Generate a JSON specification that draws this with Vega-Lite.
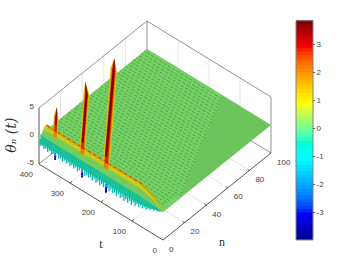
{"$schema":"https://vega.github.io/schema/vega-lite/v6.json","width":360,"height":270,"padding":0,"autosize":{"type":"fit","contains":"padding"},"background":"white","view":{"stroke":null},
"data":{"values":[
{"k":"grid","t":100,"n":0,"z":-5,"t2":100,"n2":100,"z2":-5},{"k":"grid","t":200,"n":0,"z":-5,"t2":200,"n2":100,"z2":-5},{"k":"grid","t":300,"n":0,"z":-5,"t2":300,"n2":100,"z2":-5},
{"k":"grid","t":0,"n":20,"z":-5,"t2":400,"n2":20,"z2":-5},{"k":"grid","t":0,"n":40,"z":-5,"t2":400,"n2":40,"z2":-5},{"k":"grid","t":0,"n":60,"z":-5,"t2":400,"n2":60,"z2":-5},{"k":"grid","t":0,"n":80,"z":-5,"t2":400,"n2":80,"z2":-5},
{"k":"grid","t":400,"n":20,"z":-5,"t2":400,"n2":20,"z2":5},{"k":"grid","t":400,"n":40,"z":-5,"t2":400,"n2":40,"z2":5},{"k":"grid","t":400,"n":60,"z":-5,"t2":400,"n2":60,"z2":5},{"k":"grid","t":400,"n":80,"z":-5,"t2":400,"n2":80,"z2":5},
{"k":"grid","t":100,"n":100,"z":-5,"t2":100,"n2":100,"z2":5},{"k":"grid","t":200,"n":100,"z":-5,"t2":200,"n2":100,"z2":5},{"k":"grid","t":300,"n":100,"z":-5,"t2":300,"n2":100,"z2":5},
{"k":"box","t":400,"n":0,"z":5,"t2":400,"n2":100,"z2":5},{"k":"box","t":400,"n":100,"z":5,"t2":0,"n2":100,"z2":5},{"k":"box","t":400,"n":100,"z":-5,"t2":400,"n2":100,"z2":5},{"k":"box","t":0,"n":100,"z":-5,"t2":0,"n2":100,"z2":5},{"k":"box","t":400,"n":0,"z":-5,"t2":400,"n2":100,"z2":-5},{"k":"box","t":400,"n":100,"z":-5,"t2":0,"n2":100,"z2":-5},
{"k":"axis","t":400,"n":0,"z":-5,"t2":400,"n2":0,"z2":5},{"k":"axis","t":0,"n":0,"z":-5,"t2":400,"n2":0,"z2":-5},{"k":"axis","t":0,"n":0,"z":-5,"t2":0,"n2":100,"z2":-5},
{"k":"axis","t":100,"n":0,"z":-5,"t2":100,"n2":2,"z2":-5},{"k":"axis","t":200,"n":0,"z":-5,"t2":200,"n2":2,"z2":-5},{"k":"axis","t":300,"n":0,"z":-5,"t2":300,"n2":2,"z2":-5},
{"k":"axis","t":0,"n":20,"z":-5,"t2":6,"n2":20,"z2":-5},{"k":"axis","t":0,"n":40,"z":-5,"t2":6,"n2":40,"z2":-5},{"k":"axis","t":0,"n":60,"z":-5,"t2":6,"n2":60,"z2":-5},{"k":"axis","t":0,"n":80,"z":-5,"t2":6,"n2":80,"z2":-5},
{"k":"tl","t":0,"n":0,"z":-5,"lab":"0"},{"k":"tl","t":100,"n":0,"z":-5,"lab":"100"},{"k":"tl","t":200,"n":0,"z":-5,"lab":"200"},{"k":"tl","t":300,"n":0,"z":-5,"lab":"300"},{"k":"tl","t":400,"n":0,"z":-5,"lab":"400"},
{"k":"nl","t":0,"n":0,"z":-5,"lab":"0"},{"k":"nl","t":0,"n":20,"z":-5,"lab":"20"},{"k":"nl","t":0,"n":40,"z":-5,"lab":"40"},{"k":"nl","t":0,"n":60,"z":-5,"lab":"60"},{"k":"nl","t":0,"n":80,"z":-5,"lab":"80"},{"k":"nl","t":0,"n":100,"z":-5,"lab":"100"},
{"k":"zl","t":400,"n":0,"z":5,"lab":"5"},{"k":"zl","t":400,"n":0,"z":0,"lab":"0"},{"k":"zl","t":400,"n":0,"z":-5,"lab":"-5"},
{"k":"ti","t":104.5,"n":-27.4,"z":-5,"lab":"t"},{"k":"ti","t":-112.4,"n":22.3,"z":-5,"lab":"n"},
{"k":"yt","t":487,"n":0,"z":-2.8,"lab":"θₙ (t)"},
{"k":"flat","id":"f","o":1,"t":0,"n":0,"z":0},{"k":"flat","id":"f","o":2,"t":0,"n":100,"z":0},{"k":"flat","id":"f","o":3,"t":400,"n":100,"z":0},{"k":"flat","id":"f","o":4,"t":400,"n":0,"z":0},
{"k":"tex","id":"x","o":1,"t":0,"n":0,"z":0},{"k":"tex","id":"x","o":2,"t":0,"n":16,"z":0},{"k":"tex","id":"x","o":3,"t":155,"n":100,"z":0},{"k":"tex","id":"x","o":4,"t":400,"n":100,"z":0},{"k":"tex","id":"x","o":5,"t":400,"n":0,"z":0},
{"k":"h","t":15,"n":5,"z":0,"t2":400,"n2":5,"z2":0},{"k":"h","t":15,"n":7.5,"z":0,"t2":400,"n2":7.5,"z2":0},{"k":"h","t":15,"n":10,"z":0,"t2":400,"n2":10,"z2":0},{"k":"h","t":15,"n":12.5,"z":0,"t2":400,"n2":12.5,"z2":0},{"k":"h","t":15,"n":15,"z":0,"t2":400,"n2":15,"z2":0},{"k":"h","t":3,"n":17.5,"z":0,"t2":400,"n2":17.5,"z2":0},{"k":"h","t":7,"n":20,"z":0,"t2":400,"n2":20,"z2":0},{"k":"h","t":12,"n":22.5,"z":0,"t2":400,"n2":22.5,"z2":0},{"k":"h","t":17,"n":25,"z":0,"t2":400,"n2":25,"z2":0},{"k":"h","t":21,"n":27.5,"z":0,"t2":400,"n2":27.5,"z2":0},{"k":"h","t":26,"n":30,"z":0,"t2":400,"n2":30,"z2":0},{"k":"h","t":31,"n":32.5,"z":0,"t2":400,"n2":32.5,"z2":0},{"k":"h","t":35,"n":35,"z":0,"t2":400,"n2":35,"z2":0},{"k":"h","t":40,"n":37.5,"z":0,"t2":400,"n2":37.5,"z2":0},{"k":"h","t":44,"n":40,"z":0,"t2":400,"n2":40,"z2":0},{"k":"h","t":49,"n":42.5,"z":0,"t2":400,"n2":42.5,"z2":0},{"k":"h","t":54,"n":45,"z":0,"t2":400,"n2":45,"z2":0},{"k":"h","t":58,"n":47.5,"z":0,"t2":400,"n2":47.5,"z2":0},{"k":"h","t":63,"n":50,"z":0,"t2":400,"n2":50,"z2":0},{"k":"h","t":67,"n":52.5,"z":0,"t2":400,"n2":52.5,"z2":0},{"k":"h","t":72,"n":55,"z":0,"t2":400,"n2":55,"z2":0},{"k":"h","t":77,"n":57.5,"z":0,"t2":400,"n2":57.5,"z2":0},{"k":"h","t":81,"n":60,"z":0,"t2":400,"n2":60,"z2":0},{"k":"h","t":86,"n":62.5,"z":0,"t2":400,"n2":62.5,"z2":0},{"k":"h","t":90,"n":65,"z":0,"t2":400,"n2":65,"z2":0},{"k":"h","t":95,"n":67.5,"z":0,"t2":400,"n2":67.5,"z2":0},{"k":"h","t":100,"n":70,"z":0,"t2":400,"n2":70,"z2":0},{"k":"h","t":104,"n":72.5,"z":0,"t2":400,"n2":72.5,"z2":0},{"k":"h","t":109,"n":75,"z":0,"t2":400,"n2":75,"z2":0},{"k":"h","t":113,"n":77.5,"z":0,"t2":400,"n2":77.5,"z2":0},{"k":"h","t":118,"n":80,"z":0,"t2":400,"n2":80,"z2":0},{"k":"h","t":123,"n":82.5,"z":0,"t2":400,"n2":82.5,"z2":0},{"k":"h","t":127,"n":85,"z":0,"t2":400,"n2":85,"z2":0},{"k":"h","t":132,"n":87.5,"z":0,"t2":400,"n2":87.5,"z2":0},{"k":"h","t":137,"n":90,"z":0,"t2":400,"n2":90,"z2":0},{"k":"h","t":141,"n":92.5,"z":0,"t2":400,"n2":92.5,"z2":0},{"k":"h","t":146,"n":95,"z":0,"t2":400,"n2":95,"z2":0},{"k":"h","t":150,"n":97.5,"z":0,"t2":400,"n2":97.5,"z2":0},
{"k":"fr","c":-1.1,"t":12,"z":-0.1,"z2":-0.3},{"k":"fr","c":-1.1,"t":18,"z":-0.1,"z2":-0.5},{"k":"fr","c":-1.1,"t":24,"z":-0.2,"z2":-0.5},{"k":"fr","c":-1.1,"t":30,"z":-0.3,"z2":-0.8},{"k":"fr","c":-1.1,"t":36,"z":-0.4,"z2":-0.7},{"k":"fr","c":-1.1,"t":42,"z":-0.5,"z2":-1.1},{"k":"fr","c":-1.1,"t":48,"z":-0.6,"z2":-1.0},{"k":"fr","c":-1.1,"t":54,"z":-0.6,"z2":-1.4},{"k":"fr","c":-1.1,"t":60,"z":-0.7,"z2":-1.2},{"k":"fr","c":-1.1,"t":66,"z":-0.7,"z2":-1.6},{"k":"fr","c":-1.1,"t":72,"z":-0.8,"z2":-1.3},{"k":"fr","c":-1.1,"t":78,"z":-0.8,"z2":-1.8},{"k":"fr","c":-1.1,"t":84,"z":-0.9,"z2":-1.4},{"k":"fr","c":-1.1,"t":90,"z":-1,"z2":-2.0},{"k":"fr","c":-1.1,"t":96,"z":-1,"z2":-1.6},{"k":"fr","c":-1.1,"t":102,"z":-1,"z2":-2.2},{"k":"fr","c":-1.1,"t":108,"z":-1,"z2":-1.7},{"k":"fr","c":-1.1,"t":114,"z":-1,"z2":-2.2},{"k":"fr","c":-1.1,"t":120,"z":-1,"z2":-1.8},{"k":"fr","c":-1.1,"t":126,"z":-1,"z2":-2.3},{"k":"fr","c":-1.1,"t":132,"z":-1,"z2":-1.8},{"k":"fr","c":-1.1,"t":138,"z":-1,"z2":-2.2},{"k":"fr","c":-1.1,"t":144,"z":-1,"z2":-1.7},{"k":"fr","c":-1.1,"t":150,"z":-1,"z2":-2.3},{"k":"fr","c":-1.1,"t":156,"z":-1,"z2":-1.8},{"k":"fr","c":-1.1,"t":162,"z":-1,"z2":-2.1},{"k":"fr","c":-1.1,"t":168,"z":-1,"z2":-1.7},{"k":"fr","c":-1.1,"t":174,"z":-1,"z2":-2.2},{"k":"fr","c":-1.1,"t":180,"z":-1,"z2":-1.8},{"k":"fr","c":-1.1,"t":192,"z":-1,"z2":-2.1},{"k":"fr","c":-1.1,"t":198,"z":-1,"z2":-1.7},{"k":"fr","c":-1.1,"t":204,"z":-1,"z2":-2.2},{"k":"fr","c":-1.1,"t":210,"z":-1,"z2":-1.7},{"k":"fr","c":-1.1,"t":216,"z":-1,"z2":-2.1},{"k":"fr","c":-1.1,"t":222,"z":-1,"z2":-1.6},{"k":"fr","c":-1.1,"t":228,"z":-1,"z2":-2.1},{"k":"fr","c":-1.1,"t":234,"z":-1,"z2":-1.7},{"k":"fr","c":-1.1,"t":240,"z":-1,"z2":-2.0},{"k":"fr","c":-1.1,"t":246,"z":-1,"z2":-1.7},{"k":"fr","c":-1.1,"t":252,"z":-1,"z2":-2.1},{"k":"fr","c":-1.1,"t":270,"z":-1,"z2":-1.7},{"k":"fr","c":-1.1,"t":276,"z":-1,"z2":-2.1},{"k":"fr","c":-1.1,"t":282,"z":-1,"z2":-1.6},{"k":"fr","c":-1.1,"t":288,"z":-1,"z2":-2.0},{"k":"fr","c":-1.1,"t":294,"z":-1,"z2":-1.6},{"k":"fr","c":-1.1,"t":300,"z":-1,"z2":-2.0},{"k":"fr","c":-1.1,"t":306,"z":-1,"z2":-1.6},{"k":"fr","c":-1.1,"t":312,"z":-1,"z2":-1.9},{"k":"fr","c":-1.1,"t":318,"z":-1,"z2":-1.6},{"k":"fr","c":-1.1,"t":324,"z":-1,"z2":-2.0},{"k":"fr","c":-1.1,"t":330,"z":-1,"z2":-1.6},{"k":"fr","c":-1.1,"t":336,"z":-1,"z2":-1.9},{"k":"fr","c":-1.1,"t":354,"z":-1,"z2":-1.6},{"k":"fr","c":-1.1,"t":360,"z":-1,"z2":-1.9},{"k":"fr","c":-1.1,"t":366,"z":-1,"z2":-1.5},{"k":"fr","c":-1.1,"t":372,"z":-1,"z2":-1.9},{"k":"fr","c":-1.1,"t":378,"z":-1,"z2":-1.5},{"k":"fr","c":-1.1,"t":384,"z":-1,"z2":-1.8},{"k":"fr","c":-1.1,"t":390,"z":-1,"z2":-1.4},{"k":"fr","c":-1.1,"t":396,"z":-1,"z2":-1.6},
{"k":"sp","t":184,"z":-0.5,"z2":-1.2,"c":-1.2},{"k":"sp","t":184,"z":-1.2,"z2":-1.8,"c":-2.2},{"k":"sp","t":184,"z":-1.8,"z2":-2.3,"c":-3.2},{"k":"sp","t":184,"z":-2.3,"z2":-2.8,"c":-3.9},
{"k":"sp","t":261,"z":-0.5,"z2":-1.2,"c":-1.2},{"k":"sp","t":261,"z":-1.2,"z2":-1.8,"c":-2.2},{"k":"sp","t":261,"z":-1.8,"z2":-2.3,"c":-3.2},{"k":"sp","t":261,"z":-2.3,"z2":-2.7,"c":-3.9},
{"k":"sp","t":348,"z":-0.5,"z2":-1.2,"c":-1.2},{"k":"sp","t":348,"z":-1.2,"z2":-1.7,"c":-2.2},{"k":"sp","t":348,"z":-1.7,"z2":-2.1,"c":-3.2},{"k":"sp","t":348,"z":-2.1,"z2":-2.5,"c":-3.9},
{"k":"p","id":"s1","c":-0.65,"o":1,"t":0,"n":0,"z":0},{"k":"p","id":"s1","c":-0.65,"o":2,"t":20,"n":0,"z":-0.42},{"k":"p","id":"s1","c":-0.65,"o":3,"t":50,"n":0,"z":-0.84},{"k":"p","id":"s1","c":-0.65,"o":4,"t":90,"n":0,"z":-1.2},{"k":"p","id":"s1","c":-0.65,"o":5,"t":400,"n":0,"z":-1.2},{"k":"p","id":"s1","c":-0.65,"o":6,"t":400,"n":2,"z":-0.2},{"k":"p","id":"s1","c":-0.65,"o":7,"t":90,"n":2,"z":-0.2},{"k":"p","id":"s1","c":-0.65,"o":8,"t":50,"n":1.4,"z":-0.14},{"k":"p","id":"s1","c":-0.65,"o":9,"t":20,"n":0.7,"z":-0.07},
{"k":"p","id":"s2","c":0.1,"o":1,"t":0,"n":0,"z":0},{"k":"p","id":"s2","c":0.1,"o":2,"t":20,"n":0.7,"z":-0.07},{"k":"p","id":"s2","c":0.1,"o":3,"t":50,"n":1.4,"z":-0.14},{"k":"p","id":"s2","c":0.1,"o":4,"t":90,"n":2,"z":-0.2},{"k":"p","id":"s2","c":0.1,"o":5,"t":400,"n":2,"z":-0.2},{"k":"p","id":"s2","c":0.1,"o":6,"t":400,"n":4,"z":0.6},{"k":"p","id":"s2","c":0.1,"o":7,"t":90,"n":4,"z":0.6},{"k":"p","id":"s2","c":0.1,"o":8,"t":50,"n":2.8,"z":0.42},{"k":"p","id":"s2","c":0.1,"o":9,"t":20,"n":1.4,"z":0.21},
{"k":"p","id":"s3","c":0.8,"o":1,"t":0,"n":0,"z":0},{"k":"p","id":"s3","c":0.8,"o":2,"t":20,"n":1.4,"z":0.21},{"k":"p","id":"s3","c":0.8,"o":3,"t":50,"n":2.8,"z":0.42},{"k":"p","id":"s3","c":0.8,"o":4,"t":90,"n":4,"z":0.6},{"k":"p","id":"s3","c":0.8,"o":5,"t":400,"n":4,"z":0.6},{"k":"p","id":"s3","c":0.8,"o":6,"t":400,"n":5.5,"z":0.95},{"k":"p","id":"s3","c":0.8,"o":7,"t":90,"n":5.5,"z":0.95},{"k":"p","id":"s3","c":0.8,"o":8,"t":50,"n":3.85,"z":0.66},{"k":"p","id":"s3","c":0.8,"o":9,"t":20,"n":1.9,"z":0.33},
{"k":"p","id":"s5","c":0.3,"o":1,"t":0,"n":0,"z":0},{"k":"p","id":"s5","c":0.3,"o":2,"t":20,"n":2.45,"z":0.35},{"k":"p","id":"s5","c":0.3,"o":3,"t":50,"n":4.9,"z":0.7},{"k":"p","id":"s5","c":0.3,"o":4,"t":90,"n":7,"z":1},{"k":"p","id":"s5","c":0.3,"o":5,"t":400,"n":7,"z":1},{"k":"p","id":"s5","c":0.3,"o":6,"t":400,"n":10,"z":0},{"k":"p","id":"s5","c":0.3,"o":7,"t":90,"n":10,"z":0},{"k":"p","id":"s5","c":0.3,"o":8,"t":50,"n":7,"z":0},{"k":"p","id":"s5","c":0.3,"o":9,"t":20,"n":3.5,"z":0},
{"k":"p","id":"s4","c":1.5,"o":1,"t":0,"n":0,"z":0},{"k":"p","id":"s4","c":1.5,"o":2,"t":20,"n":1.9,"z":0.33},{"k":"p","id":"s4","c":1.5,"o":3,"t":50,"n":3.85,"z":0.66},{"k":"p","id":"s4","c":1.5,"o":4,"t":90,"n":5.5,"z":0.95},{"k":"p","id":"s4","c":1.5,"o":5,"t":400,"n":5.5,"z":0.95},{"k":"p","id":"s4","c":1.5,"o":6,"t":400,"n":7,"z":1},{"k":"p","id":"s4","c":1.5,"o":7,"t":90,"n":7,"z":1},{"k":"p","id":"s4","c":1.5,"o":8,"t":50,"n":4.9,"z":0.7},{"k":"p","id":"s4","c":1.5,"o":9,"t":20,"n":2.45,"z":0.35},
{"k":"p","id":"r1a","c":0.9,"o":1,"t":355.7,"n":0,"z":1.5},{"k":"p","id":"r1a","c":0.9,"o":2,"t":376.7,"n":7,"z":3.3},{"k":"p","id":"r1a","c":0.9,"o":3,"t":384,"n":12,"z":3.8},{"k":"p","id":"r1a","c":0.9,"o":4,"t":361.3,"n":7,"z":3.3},{"k":"p","id":"r1a","c":0.9,"o":5,"t":340.3,"n":0,"z":1.5},
{"k":"p","id":"r1b","c":1.8,"o":1,"t":353.6,"n":0,"z":1.5},{"k":"p","id":"r1b","c":1.8,"o":2,"t":374.6,"n":7,"z":3.3},{"k":"p","id":"r1b","c":1.8,"o":3,"t":384,"n":12,"z":3.8},{"k":"p","id":"r1b","c":1.8,"o":4,"t":363.4,"n":7,"z":3.3},{"k":"p","id":"r1b","c":1.8,"o":5,"t":342.4,"n":0,"z":1.5},
{"k":"p","id":"r1c","c":2.8,"o":1,"t":357.5,"n":2,"z":2},{"k":"p","id":"r1c","c":2.8,"o":2,"t":372.5,"n":7,"z":3.3},{"k":"p","id":"r1c","c":2.8,"o":3,"t":384,"n":12,"z":3.8},{"k":"p","id":"r1c","c":2.8,"o":4,"t":365.5,"n":7,"z":3.3},{"k":"p","id":"r1c","c":2.8,"o":5,"t":350.5,"n":2,"z":2},
{"k":"p","id":"r1d","c":3.7,"o":1,"t":361.8,"n":4,"z":2.6},{"k":"p","id":"r1d","c":3.7,"o":2,"t":370.8,"n":7,"z":3.3},{"k":"p","id":"r1d","c":3.7,"o":3,"t":384,"n":12,"z":3.8},{"k":"p","id":"r1d","c":3.7,"o":4,"t":367.2,"n":7,"z":3.3},{"k":"p","id":"r1d","c":3.7,"o":5,"t":358.2,"n":4,"z":2.6},
{"k":"p","id":"r2a","c":0.9,"o":1,"t":270.1,"n":0,"z":1.5},{"k":"p","id":"r2a","c":0.9,"o":2,"t":374.1,"n":34,"z":3.5},{"k":"p","id":"r2a","c":0.9,"o":3,"t":390,"n":40,"z":3.8},{"k":"p","id":"r2a","c":0.9,"o":4,"t":355.9,"n":34,"z":3.5},{"k":"p","id":"r2a","c":0.9,"o":5,"t":251.9,"n":0,"z":1.5},
{"k":"p","id":"r2b","c":1.8,"o":1,"t":267.7,"n":0,"z":1.5},{"k":"p","id":"r2b","c":1.8,"o":2,"t":371.7,"n":34,"z":3.5},{"k":"p","id":"r2b","c":1.8,"o":3,"t":390,"n":40,"z":3.8},{"k":"p","id":"r2b","c":1.8,"o":4,"t":358.3,"n":34,"z":3.5},{"k":"p","id":"r2b","c":1.8,"o":5,"t":254.3,"n":0,"z":1.5},
{"k":"p","id":"r2c","c":2.8,"o":1,"t":271.2,"n":2,"z":1.9},{"k":"p","id":"r2c","c":2.8,"o":2,"t":369.2,"n":34,"z":3.5},{"k":"p","id":"r2c","c":2.8,"o":3,"t":390,"n":40,"z":3.8},{"k":"p","id":"r2c","c":2.8,"o":4,"t":360.8,"n":34,"z":3.5},{"k":"p","id":"r2c","c":2.8,"o":5,"t":262.8,"n":2,"z":1.9},
{"k":"p","id":"r2d","c":3.7,"o":1,"t":278,"n":4.5,"z":2.4},{"k":"p","id":"r2d","c":3.7,"o":2,"t":368,"n":34,"z":3.5},{"k":"p","id":"r2d","c":3.7,"o":3,"t":390,"n":40,"z":3.8},{"k":"p","id":"r2d","c":3.7,"o":4,"t":362,"n":34,"z":3.5},{"k":"p","id":"r2d","c":3.7,"o":5,"t":272,"n":4.5,"z":2.4},
{"k":"p","id":"r3a","c":0.9,"o":1,"t":194.5,"n":0,"z":1.5},{"k":"p","id":"r3a","c":0.9,"o":2,"t":378.5,"n":60,"z":3.5},{"k":"p","id":"r3a","c":0.9,"o":3,"t":390,"n":67,"z":3.8},{"k":"p","id":"r3a","c":0.9,"o":4,"t":357.5,"n":60,"z":3.5},{"k":"p","id":"r3a","c":0.9,"o":5,"t":173.5,"n":0,"z":1.5},
{"k":"p","id":"r3b","c":1.8,"o":1,"t":191.7,"n":0,"z":1.5},{"k":"p","id":"r3b","c":1.8,"o":2,"t":375.7,"n":60,"z":3.5},{"k":"p","id":"r3b","c":1.8,"o":3,"t":390,"n":67,"z":3.8},{"k":"p","id":"r3b","c":1.8,"o":4,"t":360.3,"n":60,"z":3.5},{"k":"p","id":"r3b","c":1.8,"o":5,"t":176.3,"n":0,"z":1.5},
{"k":"p","id":"r3c","c":2.8,"o":1,"t":195,"n":2,"z":1.9},{"k":"p","id":"r3c","c":2.8,"o":2,"t":372.9,"n":60,"z":3.5},{"k":"p","id":"r3c","c":2.8,"o":3,"t":390,"n":67,"z":3.8},{"k":"p","id":"r3c","c":2.8,"o":4,"t":363.1,"n":60,"z":3.5},{"k":"p","id":"r3c","c":2.8,"o":5,"t":185,"n":2,"z":1.9},
{"k":"p","id":"r3d","c":3.7,"o":1,"t":203,"n":4.5,"z":2.4},{"k":"p","id":"r3d","c":3.7,"o":2,"t":371.5,"n":60,"z":3.5},{"k":"p","id":"r3d","c":3.7,"o":3,"t":390,"n":67,"z":3.8},{"k":"p","id":"r3d","c":3.7,"o":4,"t":364.5,"n":60,"z":3.5},{"k":"p","id":"r3d","c":3.7,"o":5,"t":196,"n":4.5,"z":2.4},
{"k":"fl","t":90,"n":6.3,"z":1,"t2":400,"n2":6.3,"z2":1},
{"k":"cb","lo":-3.98,"hi":-3.858},{"k":"cb","lo":-3.858,"hi":-3.735},{"k":"cb","lo":-3.735,"hi":-3.613},{"k":"cb","lo":-3.613,"hi":-3.491},{"k":"cb","lo":-3.491,"hi":-3.368},{"k":"cb","lo":-3.368,"hi":-3.246},{"k":"cb","lo":-3.246,"hi":-3.124},{"k":"cb","lo":-3.124,"hi":-3.001},{"k":"cb","lo":-3.001,"hi":-2.879},{"k":"cb","lo":-2.879,"hi":-2.757},{"k":"cb","lo":-2.757,"hi":-2.634},{"k":"cb","lo":-2.634,"hi":-2.512},{"k":"cb","lo":-2.512,"hi":-2.39},{"k":"cb","lo":-2.39,"hi":-2.267},{"k":"cb","lo":-2.267,"hi":-2.145},{"k":"cb","lo":-2.145,"hi":-2.023},{"k":"cb","lo":-2.023,"hi":-1.9},{"k":"cb","lo":-1.9,"hi":-1.778},{"k":"cb","lo":-1.778,"hi":-1.656},{"k":"cb","lo":-1.656,"hi":-1.533},{"k":"cb","lo":-1.533,"hi":-1.411},{"k":"cb","lo":-1.411,"hi":-1.288},{"k":"cb","lo":-1.288,"hi":-1.166},{"k":"cb","lo":-1.166,"hi":-1.044},{"k":"cb","lo":-1.044,"hi":-0.922},{"k":"cb","lo":-0.922,"hi":-0.799},{"k":"cb","lo":-0.799,"hi":-0.677},{"k":"cb","lo":-0.677,"hi":-0.554},{"k":"cb","lo":-0.554,"hi":-0.432},{"k":"cb","lo":-0.432,"hi":-0.31},{"k":"cb","lo":-0.31,"hi":-0.187},{"k":"cb","lo":-0.187,"hi":-0.065},{"k":"cb","lo":-0.065,"hi":0.057},{"k":"cb","lo":0.057,"hi":0.18},{"k":"cb","lo":0.18,"hi":0.302},{"k":"cb","lo":0.302,"hi":0.424},{"k":"cb","lo":0.424,"hi":0.547},{"k":"cb","lo":0.547,"hi":0.669},{"k":"cb","lo":0.669,"hi":0.791},{"k":"cb","lo":0.791,"hi":0.914},{"k":"cb","lo":0.914,"hi":1.036},{"k":"cb","lo":1.036,"hi":1.158},{"k":"cb","lo":1.158,"hi":1.281},{"k":"cb","lo":1.281,"hi":1.403},{"k":"cb","lo":1.403,"hi":1.525},{"k":"cb","lo":1.525,"hi":1.648},{"k":"cb","lo":1.648,"hi":1.77},{"k":"cb","lo":1.77,"hi":1.892},{"k":"cb","lo":1.892,"hi":2.015},{"k":"cb","lo":2.015,"hi":2.137},{"k":"cb","lo":2.137,"hi":2.259},{"k":"cb","lo":2.259,"hi":2.382},{"k":"cb","lo":2.382,"hi":2.504},{"k":"cb","lo":2.504,"hi":2.626},{"k":"cb","lo":2.626,"hi":2.749},{"k":"cb","lo":2.749,"hi":2.871},{"k":"cb","lo":2.871,"hi":2.993},{"k":"cb","lo":2.993,"hi":3.116},{"k":"cb","lo":3.116,"hi":3.238},{"k":"cb","lo":3.238,"hi":3.36},{"k":"cb","lo":3.36,"hi":3.483},{"k":"cb","lo":3.483,"hi":3.605},{"k":"cb","lo":3.605,"hi":3.728},{"k":"cb","lo":3.728,"hi":3.85},
{"k":"cbb","lo":-3.98,"hi":3.85},
{"k":"cl","lo":-3,"lab":"-3"},{"k":"cl","lo":-2,"lab":"-2"},{"k":"cl","lo":-1,"lab":"-1"},{"k":"cl","lo":0,"lab":"0"},{"k":"cl","lo":1,"lab":"1"},{"k":"cl","lo":2,"lab":"2"},{"k":"cl","lo":3,"lab":"3"}
]},
"transform":[
{"calculate":"163-0.31*datum.t+1.08*(datum.n||0)","as":"px"},
{"calculate":"240-0.19*datum.t-0.87*(datum.n||0)-5.6*(datum.z+5)","as":"py"},
{"calculate":"163-0.31*(isValid(datum.t2)?datum.t2:datum.t)+1.08*(datum.n2||0)","as":"qx"},
{"calculate":"240-0.19*(isValid(datum.t2)?datum.t2:datum.t)-0.87*(datum.n2||0)-5.6*(datum.z2+5)","as":"qy"},
{"calculate":"128.5-28*datum.lo","as":"by"},
{"calculate":"128.5-28*datum.hi","as":"by2"},
{"calculate":"128.5-28*datum.hi-0.7","as":"by3"},
{"calculate":"(datum.lo+datum.hi)/2","as":"mid"},
{"calculate":"296","as":"bl"},
{"calculate":"313","as":"br"},
{"calculate":"315","as":"bt"},
{"calculate":"316.5","as":"bx"}
],
"encoding":{
"x":{"field":"px","type":"quantitative","axis":null,"scale":{"domain":[0,360],"range":[0,360]}},
"y":{"field":"py","type":"quantitative","axis":null,"scale":{"domain":[0,270],"range":[0,270]}}
},
"layer":[
{"transform":[{"filter":"datum.k=='grid'"}],"mark":{"type":"rule","color":"#e6e6e6","strokeWidth":1},"encoding":{"x2":{"field":"qx"},"y2":{"field":"qy"}}},
{"transform":[{"filter":"datum.k=='box'"}],"mark":{"type":"rule","color":"#777777","strokeWidth":0.8},"encoding":{"x2":{"field":"qx"},"y2":{"field":"qy"}}},
{"transform":[{"filter":"datum.k=='axis'"}],"mark":{"type":"rule","color":"#444444","strokeWidth":0.9},"encoding":{"x2":{"field":"qx"},"y2":{"field":"qy"}}},
{"transform":[{"filter":"datum.k=='flat'"}],"mark":{"type":"line","filled":true,"fill":"#6ec45c","strokeWidth":0},"encoding":{"detail":{"field":"id"},"order":{"field":"o"}}},
{"transform":[{"filter":"datum.k=='tex'"}],"mark":{"type":"line","filled":true,"fill":"#74d064","strokeWidth":0},"encoding":{"detail":{"field":"id"},"order":{"field":"o"}}},
{"transform":[{"filter":"datum.k=='h'"}],"mark":{"type":"rule","color":"#3d8a3a","strokeWidth":0.85,"opacity":0.8,"strokeDash":[3,2]},"encoding":{"x2":{"field":"qx"},"y2":{"field":"qy"}}},
{"transform":[{"filter":"datum.k=='fr'"}],"mark":{"type":"rule","strokeWidth":1.3},"encoding":{"x2":{"field":"qx"},"y2":{"field":"qy"},"stroke":{"field":"c","type":"quantitative","legend":null,"scale":{"domain":[-3.98,-3.0,-1.04,0.91,2.87,3.85],"range":["#000072","#0000cc","#10b8b0","#d8c810","#d81000","#700000"]}}}},
{"transform":[{"filter":"datum.k=='sp'"}],"mark":{"type":"rule","strokeWidth":2},"encoding":{"x2":{"field":"qx"},"y2":{"field":"qy"},"color":{"field":"c","type":"quantitative","legend":null,"scale":{"domain":[-3.98,-3.0,-1.04,0.91,2.87,3.85],"range":["#00008f","#0000ff","#00ffff","#ffff00","#ff0000","#800000"]}}}},
{"transform":[{"filter":"datum.k=='p'"}],"mark":{"type":"line","strokeWidth":0},"encoding":{"detail":{"field":"id"},"order":{"field":"o"},"fill":{"field":"c","type":"quantitative","legend":null,"scale":{"domain":[-3.98,-3.0,-1.04,0.91,2.87,3.85],"range":["#000072","#0000cc","#10b8b0","#d8c810","#d81000","#700000"]}}}},
{"transform":[{"filter":"datum.k=='fl'"}],"mark":{"type":"rule","color":"#7a5510","strokeWidth":0.9,"strokeDash":[3,3]},"encoding":{"x2":{"field":"qx"},"y2":{"field":"qy"}}},
{"transform":[{"filter":"datum.k=='cb'"}],"mark":{"type":"rect"},"encoding":{"x":{"field":"bl","type":"quantitative"},"x2":{"field":"br"},"y":{"field":"by","type":"quantitative"},"y2":{"field":"by3"},"color":{"field":"mid","type":"quantitative","legend":null}}},
{"transform":[{"filter":"datum.k=='cbb'"}],"mark":{"type":"rect","fillOpacity":0,"stroke":"#808080","strokeWidth":1},"encoding":{"x":{"field":"bl","type":"quantitative"},"x2":{"field":"br"},"y":{"field":"by","type":"quantitative"},"y2":{"field":"by2"}}},
{"transform":[{"filter":"datum.k=='cl'"}],"mark":{"type":"rule","color":"#444444","strokeWidth":0.8},"encoding":{"x":{"field":"br","type":"quantitative"},"x2":{"field":"bt"},"y":{"field":"by","type":"quantitative"}}},
{"transform":[{"filter":"datum.k=='cl'"}],"mark":{"type":"text","align":"left","fontSize":8,"font":"Liberation Sans","color":"#444444"},"encoding":{"x":{"field":"bx","type":"quantitative"},"y":{"field":"by","type":"quantitative"},"text":{"field":"lab"}}},
{"transform":[{"filter":"datum.k=='tl'"}],"mark":{"type":"text","align":"right","dx":-6,"dy":10.5,"fontSize":8,"font":"Liberation Sans","color":"#444444"},"encoding":{"text":{"field":"lab"}}},
{"transform":[{"filter":"datum.k=='nl'"}],"mark":{"type":"text","align":"left","dx":6,"dy":9.5,"fontSize":8,"font":"Liberation Sans","color":"#444444"},"encoding":{"text":{"field":"lab"}}},
{"transform":[{"filter":"datum.k=='zl'"}],"mark":{"type":"text","align":"right","dx":-5,"dy":-1.5,"fontSize":8,"font":"Liberation Sans","color":"#444444"},"encoding":{"text":{"field":"lab"}}},
{"transform":[{"filter":"datum.k=='ti'"}],"mark":{"type":"text","fontSize":12,"font":"Liberation Serif","color":"#333333"},"encoding":{"text":{"field":"lab"}}},
{"transform":[{"filter":"datum.k=='yt'"}],"mark":{"type":"text","angle":270,"fontSize":14,"font":"DejaVu Serif","fontStyle":"italic","color":"#333333"},"encoding":{"text":{"field":"lab"}}}
]}
